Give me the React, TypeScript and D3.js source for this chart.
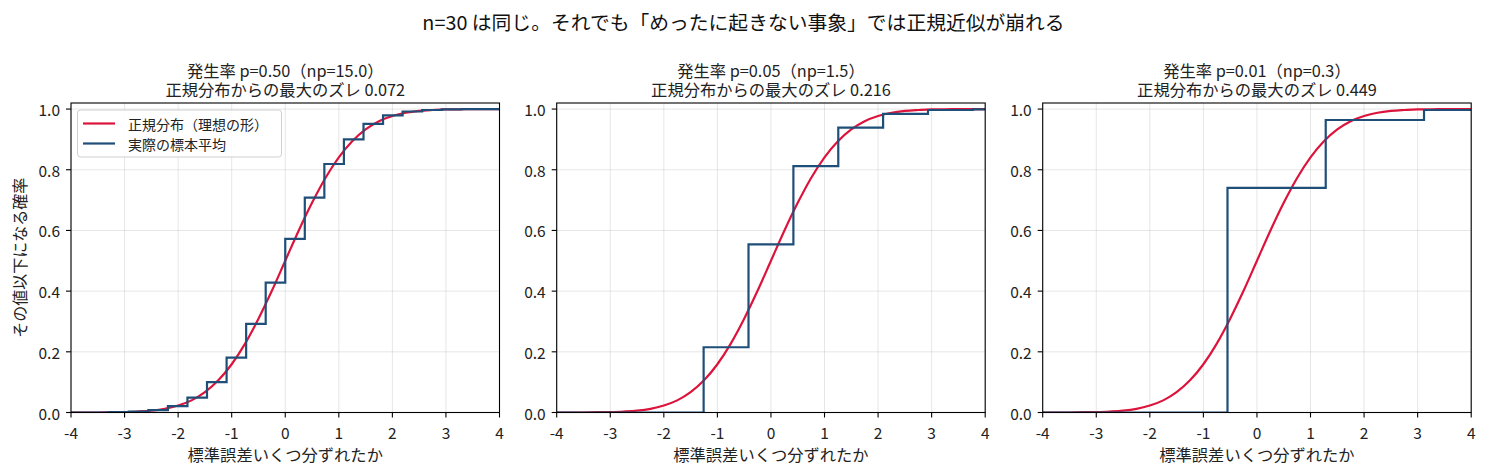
import * as d3 from 'd3';

// normal CDF
const NORMAL_X = [-4, -3.75, -3.5, -3.25, -3, -2.75, -2.5, -2.25, -2, -1.75, -1.5, -1.25, -1, -0.75, -0.5, -0.25, 0,
  0.25, 0.5, 0.75, 1, 1.25, 1.5, 1.75, 2, 2.25, 2.5, 2.75, 3, 3.25, 3.5, 3.75, 4];
const NORMAL_CDF = [0, 0, 0, 0.001, 0.001, 0.003, 0.006, 0.012, 0.023, 0.04, 0.067, 0.106, 0.159, 0.227, 0.309, 0.401, 0.5,
  0.599, 0.691, 0.773, 0.841, 0.894, 0.933, 0.96, 0.977, 0.988, 0.994, 0.997, 0.999, 0.999, 1, 1, 1];

// step positions (standardized) and cumulative values of the sample mean
const STEP_X_P50 = [-3.651, -3.286, -2.921, -2.556, -2.191, -1.826, -1.461, -1.095, -0.73, -0.365, 0,
  0.365, 0.73, 1.095, 1.461, 1.826, 2.191, 2.556, 2.921, 3.286, 3.651];
const STEP_Y_P50 = [0, 0.001, 0.003, 0.008, 0.021, 0.049, 0.1, 0.181, 0.292, 0.428, 0.572,
  0.708, 0.819, 0.9, 0.951, 0.979, 0.992, 0.997, 0.999, 1, 1];
const STEP_X_P05 = [-1.257, -0.419, 0.419, 1.257, 2.094, 2.932, 3.77];
const STEP_Y_P05 = [0.215, 0.554, 0.812, 0.939, 0.984, 0.997, 0.999];
const STEP_X_P01 = [-0.55, 1.284, 3.119];
const STEP_Y_P01 = [0.74, 0.964, 0.997];

const PROBS = ['0.50', '0.05', '0.01'];
const NPS = ['15.0', '1.5', '0.3'];
const MAX_GAPS = ['0.072', '0.216', '0.449'];
const X_TICKS = [-4, -3, -2, -1, 0, 1, 2, 3, 4];
const Y_TICKS = [0, 0.2, 0.4, 0.6, 0.8, 1.0];

const SUPTITLE = 'n=30 は同じ。それでも「めったに起きない事象」では正規近似が崩れる';
const X_LABEL = '標準誤差いくつ分ずれたか';
const Y_LABEL = 'その値以下になる確率';
const LEGEND = ['正規分布（理想の形）', '実際の標本平均'];

const RED = '#dc143c';
const BLUE = '#1f4e79';
const FONT = '"Noto Sans CJK JP", "Noto Sans", sans-serif';

const W = 1487;
const H = 476;
const PANEL_LEFT = [71, 556.7, 1042.7];
const PANEL_W = 428.5;
const TOP = 103;
const BOTTOM = 412.5;

type Pt = [number, number];

const steps: Pt[][] = [
  [STEP_X_P50, STEP_Y_P50],
  [STEP_X_P05, STEP_Y_P05],
  [STEP_X_P01, STEP_Y_P01],
].map(([xs, ys]) => {
  const pts: Pt[] = [[-4, 0]];
  xs.forEach((x, i) => pts.push([x, ys[i]]));
  pts.push([4, ys[ys.length - 1]]);
  return pts;
});

const normal: Pt[] = NORMAL_X.map((x, i) => [x, NORMAL_CDF[i]]);

function Panel({ idx }: { idx: number }) {
  const left = PANEL_LEFT[idx];
  const x = d3.scaleLinear().domain([-4, 4]).range([left, left + PANEL_W]);
  const y = d3.scaleLinear().domain([0, 1.02]).range([BOTTOM, TOP]);

  const normalLine = d3.line<Pt>().x((d) => x(d[0])).y((d) => y(d[1])).curve(d3.curveMonotoneX);
  const stepLine = d3.line<Pt>().x((d) => x(d[0])).y((d) => y(d[1])).curve(d3.curveStepAfter);
  const cx = left + PANEL_W / 2;
  const clipId = `clip-${idx}`;

  return (
    <g>
      <defs>
        <clipPath id={clipId}>
          <rect x={left} y={TOP} width={PANEL_W} height={BOTTOM - TOP} />
        </clipPath>
      </defs>
      {X_TICKS.map((t) => (
        <line key={`gx${t}`} x1={x(t)} x2={x(t)} y1={TOP} y2={BOTTOM} stroke="#b0b0b0" strokeOpacity={0.4} strokeWidth={0.8} />
      ))}
      {Y_TICKS.map((t) => (
        <line key={`gy${t}`} x1={left} x2={left + PANEL_W} y1={y(t)} y2={y(t)} stroke="#b0b0b0" strokeOpacity={0.4} strokeWidth={0.8} />
      ))}
      <g clipPath={`url(#${clipId})`}>
        <path d={normalLine(normal) ?? ''} fill="none" stroke={RED} strokeWidth={2.2} />
        <path d={stepLine(steps[idx]) ?? ''} fill="none" stroke={BLUE} strokeWidth={2.2} />
      </g>
      <rect x={left} y={TOP} width={PANEL_W} height={BOTTOM - TOP} fill="none" stroke="#000" strokeWidth={1.1} />
      {X_TICKS.map((t) => (
        <g key={`tx${t}`}>
          <line x1={x(t)} x2={x(t)} y1={BOTTOM} y2={BOTTOM + 5} stroke="#000" strokeWidth={1.1} />
          <text x={x(t)} y={432} textAnchor="middle" dominantBaseline="central" fontSize={15.5} fontFamily={FONT} fill="#222">
            {String(t)}
          </text>
        </g>
      ))}
      {Y_TICKS.map((t) => (
        <g key={`ty${t}`}>
          <line x1={left - 5} x2={left} y1={y(t)} y2={y(t)} stroke="#000" strokeWidth={1.1} />
          <text x={left - 11} y={y(t)} textAnchor="end" dominantBaseline="central" fontSize={15.5} fontFamily={FONT} fill="#222">
            {t.toFixed(1)}
          </text>
        </g>
      ))}
      <text x={cx} y={69.5} textAnchor="middle" dominantBaseline="central" fontSize={16.3} fontFamily={FONT} fill="#222">
        {`発生率 p=${PROBS[idx]}（np=${NPS[idx]}）`}
      </text>
      <text x={cx} y={88.5} textAnchor="middle" dominantBaseline="central" fontSize={16.3} fontFamily={FONT} fill="#222">
        {`正規分布からの最大のズレ ${MAX_GAPS[idx]}`}
      </text>
      <text x={cx} y={454} textAnchor="middle" dominantBaseline="central" fontSize={16.3} fontFamily={FONT} fill="#222">
        {X_LABEL}
      </text>
    </g>
  );
}

export default function App() {
  const lx = PANEL_LEFT[0];
  return (
    <svg width={W} height={H} style={{ position: 'absolute', left: 0, top: 0, background: '#fff' }}>
      <rect width={W} height={H} fill="#fff" />
      <text x={W / 2} y={21} textAnchor="middle" dominantBaseline="central" fontSize={19.8} fontFamily={FONT} fill="#111">
        {SUPTITLE}
      </text>
      {[0, 1, 2].map((i) => (
        <Panel key={i} idx={i} />
      ))}
      <text transform={`translate(19,${(TOP + BOTTOM) / 2}) rotate(-90)`} textAnchor="middle" dominantBaseline="central"
        fontSize={16} fontFamily={FONT} fill="#222">
        {Y_LABEL}
      </text>
      <g>
        <rect x={lx + 6.5} y={110} width={204} height={47} rx={3} fill="#fff" fillOpacity={0.85} stroke="#d0d0d0" strokeWidth={1} />
        {LEGEND.map((label, i) => (
          <g key={label}>
            <line x1={lx + 12} x2={lx + 44} y1={123.5 + i * 20} y2={123.5 + i * 20} stroke={i === 0 ? RED : BLUE} strokeWidth={2.2} />
            <text x={lx + 57} y={123.5 + i * 20} dominantBaseline="central" fontSize={14} fontFamily={FONT} fill="#222">
              {label}
            </text>
          </g>
        ))}
      </g>
    </svg>
  );
}
